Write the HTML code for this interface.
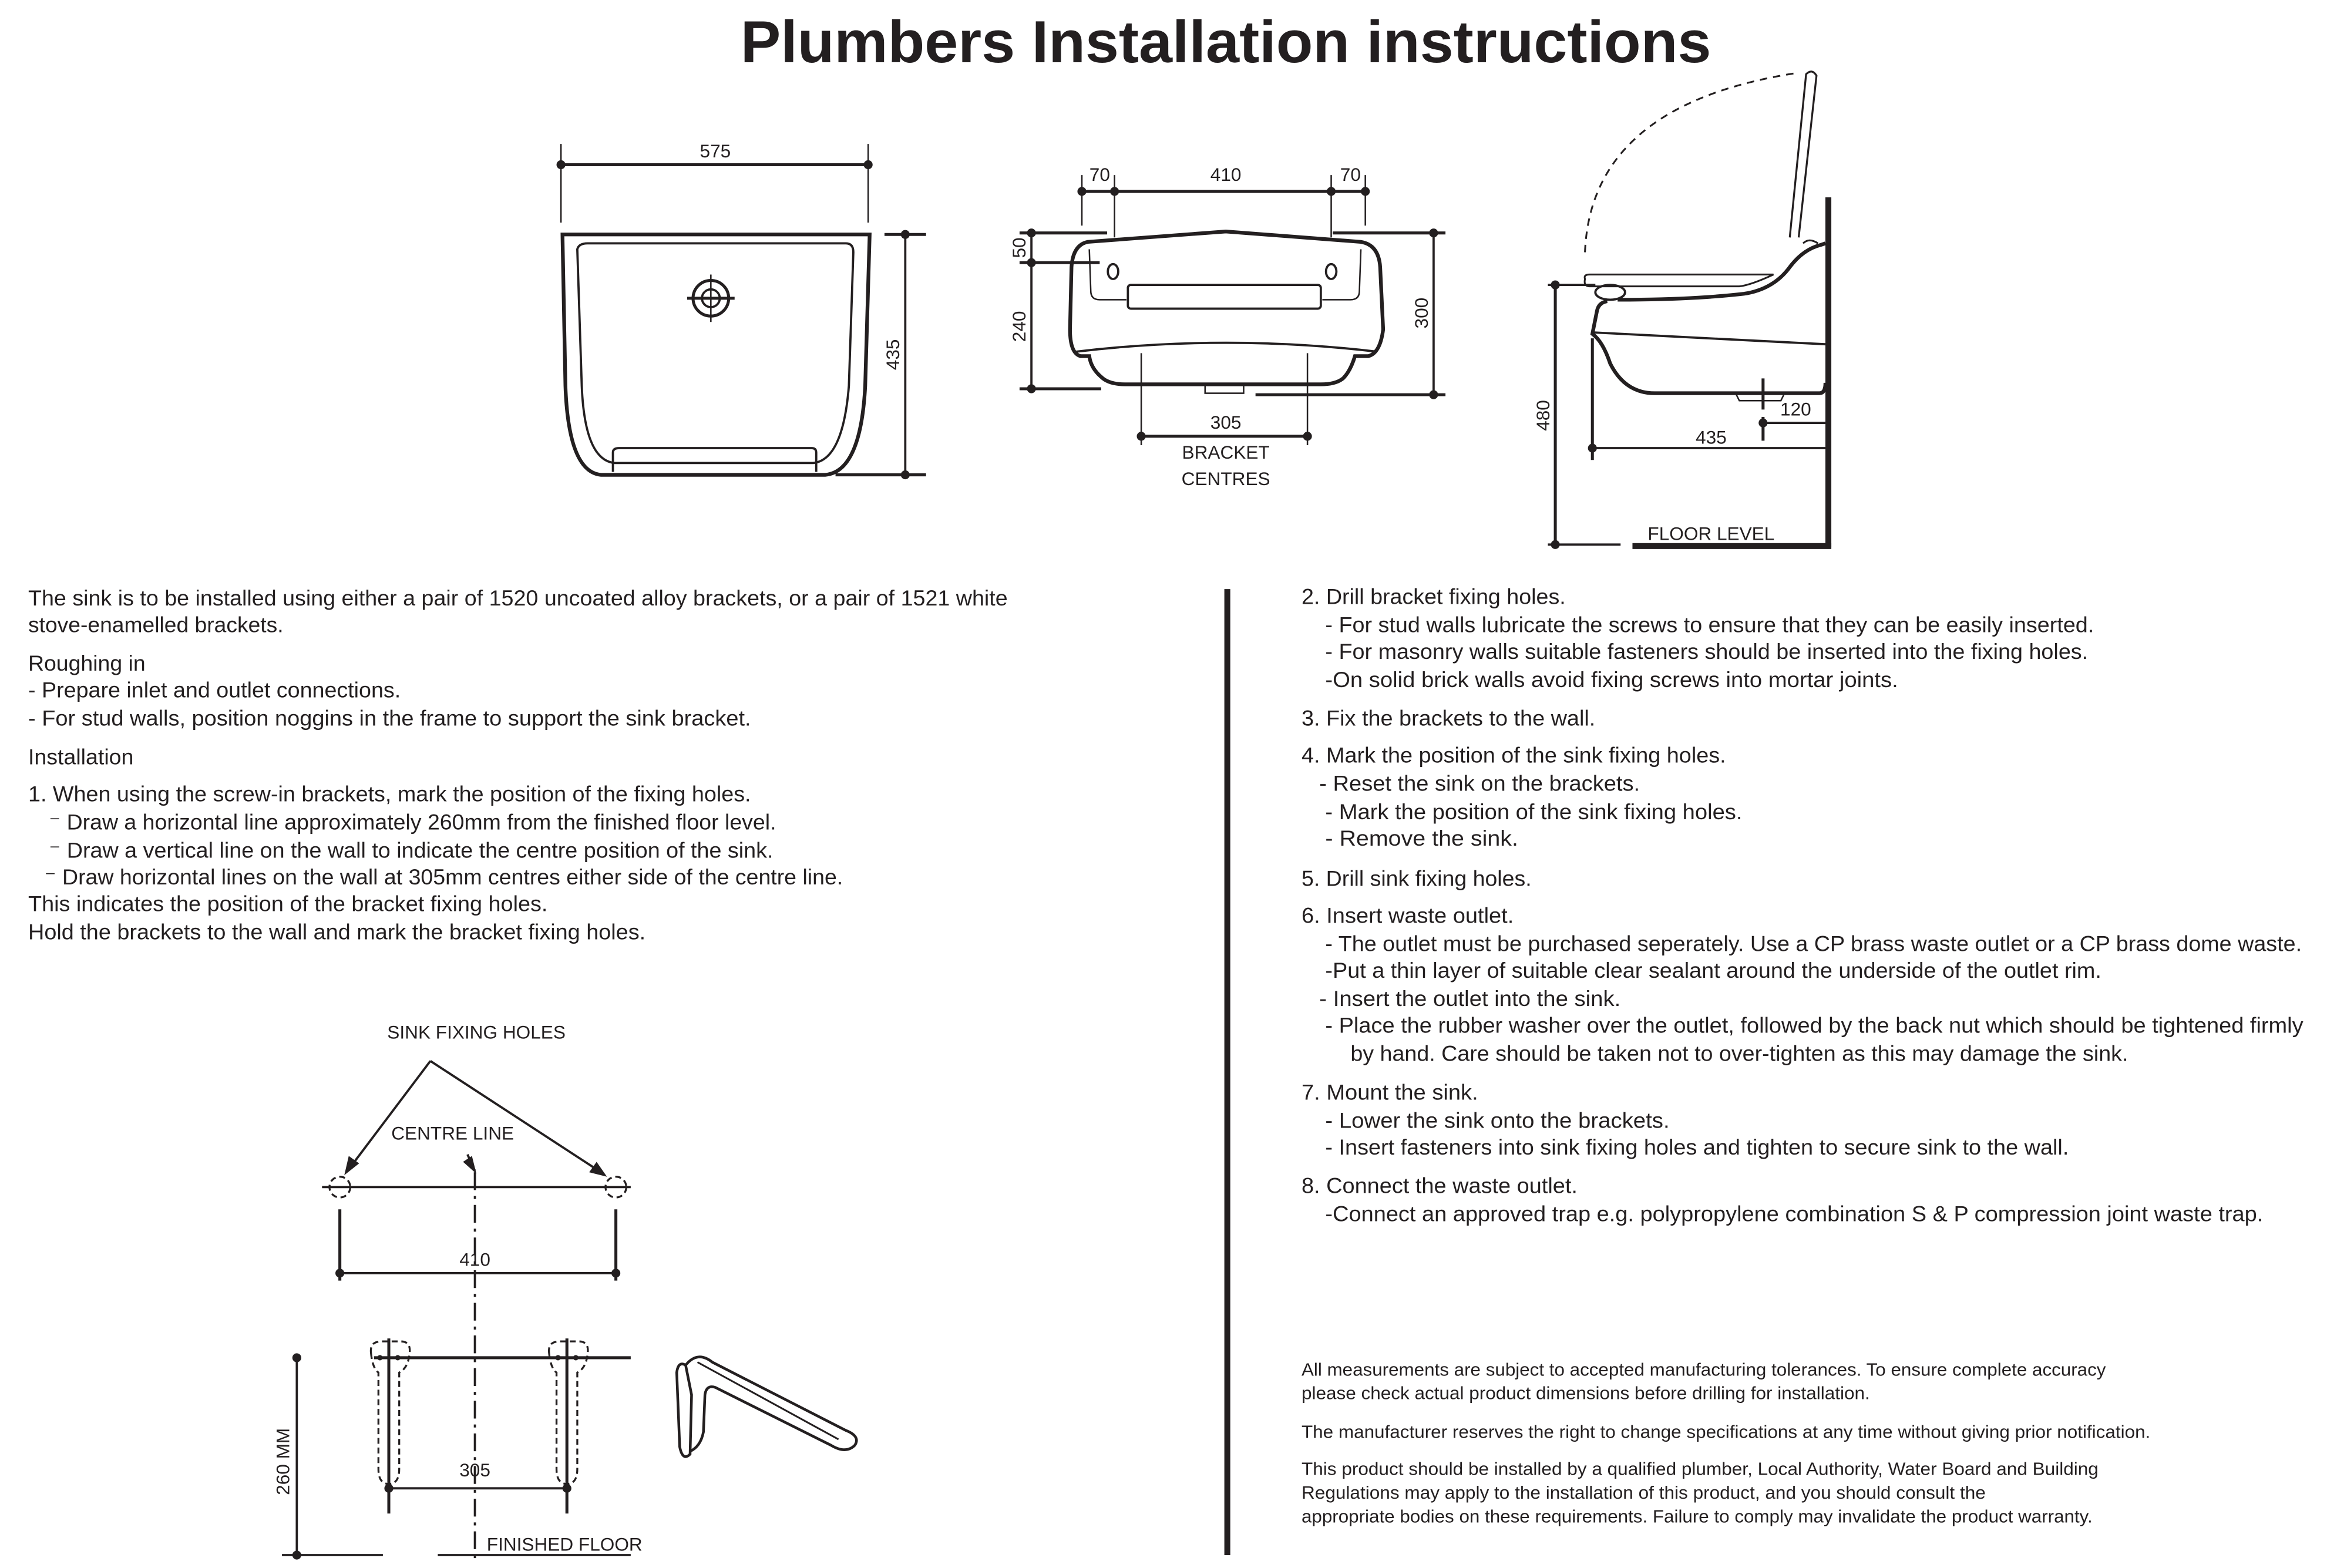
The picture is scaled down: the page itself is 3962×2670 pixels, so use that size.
<!DOCTYPE html>
<html><head><meta charset="utf-8"><style>
html,body{margin:0;padding:0;background:#fff;}
svg{display:block;}
text{font-family:"Liberation Sans",sans-serif;fill:#231f20;}
.b{font-size:14.5px;}
.s{font-size:12px;}
.d{font-size:12.5px;}
</style></head><body>
<svg width="3962" height="2670" viewBox="0 0 1568 1056.7" preserveAspectRatio="none" xmlns="http://www.w3.org/2000/svg">
<rect width="1568" height="1057" fill="#fff"/>
<text x="826" y="42" text-anchor="middle" font-size="40" font-weight="bold" textLength="654" lengthAdjust="spacingAndGlyphs">Plumbers Installation instructions</text>

<g fill="none" stroke="#231f20" stroke-width="2">
<!-- front view -->
<line x1="378" y1="97" x2="378" y2="150" stroke-width="1"/>
<line x1="585" y1="97" x2="585" y2="150" stroke-width="1"/>
<line x1="378" y1="111" x2="585" y2="111"/>
<path d="M379 158 L586 158 L583 260 Q580 318 556 320 L405 320 Q383 318 381 260 Z" stroke-width="2.5"/>
<path d="M389 168 Q390 164 396 164 L570 164 Q575 164 575 170 L572 260 Q568 310 548 312 L414 312 Q394 310 392 260 Z" stroke-width="1.5"/>
<path d="M413 318 L413 305 Q413 302 417 302 L547 302 Q550 302 550 305 L550 318" stroke-width="1.5"/>
<circle cx="479" cy="201" r="12" stroke-width="2"/>
<circle cx="479" cy="201" r="6" stroke-width="1.5"/>
<line x1="463" y1="201" x2="495" y2="201"/>
<line x1="479" y1="185" x2="479" y2="217" stroke-width="1"/>
<line x1="610" y1="158" x2="610" y2="320" stroke-width="1.5"/>
<line x1="596" y1="158" x2="624" y2="158"/>
<line x1="563" y1="320" x2="624" y2="320"/>

<!-- middle view -->
<line x1="729" y1="118" x2="729" y2="152" stroke-width="1"/>
<line x1="751" y1="118" x2="751" y2="160" stroke-width="1"/>
<line x1="897" y1="118" x2="897" y2="160" stroke-width="1"/>
<line x1="920" y1="118" x2="920" y2="152" stroke-width="1"/>
<line x1="729" y1="129" x2="920" y2="129"/>
<path d="M733 163 L826 156 L917 163 Q929 165 930 180 L932 222 Q930 238 922 240 L913 240 Q910 250 905 255 Q900 259 890 259 L758 259 Q747 259 742 254 Q735 248 734 240 L728 240 Q721 238 721 222 L722 180 Q723 165 733 163 Z" stroke-width="2.5"/>
<path d="M725 237 Q826 225 928 237" stroke-width="1.5"/>
<path d="M734 168 L735 196 Q735 202 741 202 L759 202" stroke-width="1"/>
<path d="M917 168 L916 196 Q916 202 910 202 L891 202" stroke-width="1"/>
<rect x="760" y="192" width="130" height="16" rx="2" stroke-width="1.5"/>
<ellipse cx="750" cy="183" rx="3.5" ry="5" stroke-width="1.5"/>
<ellipse cx="897" cy="183" rx="3.5" ry="5" stroke-width="1.5"/>
<rect x="812" y="259" width="26" height="6" stroke-width="1"/>
<line x1="695" y1="157" x2="695" y2="262" stroke-width="1.5"/>
<line x1="687" y1="157" x2="746" y2="157"/>
<line x1="898" y1="157" x2="974" y2="157"/>
<line x1="687" y1="177" x2="741" y2="177"/>
<line x1="687" y1="262" x2="742" y2="262"/>
<line x1="966" y1="157" x2="966" y2="266" stroke-width="1.5"/>
<line x1="846" y1="266" x2="974" y2="266"/>
<line x1="769" y1="238" x2="769" y2="300" stroke-width="1"/>
<line x1="881" y1="238" x2="881" y2="300" stroke-width="1"/>
<line x1="769" y1="294" x2="881" y2="294"/>

<!-- side view -->
<path d="M1068 170 Q1072 70 1212 49" stroke-dasharray="5,4" stroke-width="1.2"/>
<path d="M1206 160 L1217 50 Q1221 46 1224 51 L1212 160" stroke-width="1.3"/>
<rect x="1230" y="133" width="4" height="236" fill="#231f20" stroke="none"/>
<rect x="1100" y="366" width="134" height="4" fill="#231f20" stroke="none"/>
<path d="M1068 188 Q1067 185 1071 185 L1195 185 Q1180 192 1172 193 L1071 193 Q1067 193 1068 188 Z" stroke-width="1.2"/>
<ellipse cx="1085" cy="197" rx="10" ry="5" stroke-width="1.5"/>
<path d="M1090 202 Q1140 202 1175 198 Q1195 195 1206 180 Q1215 168 1227 165 L1230 164" stroke-width="2.5"/>
<path d="M1225 164 Q1219 160 1215 164" stroke-width="1.2"/>
<path d="M1083 203 Q1077 204 1076 210 L1073 225 Q1080 230 1085 245 Q1095 265 1115 265 L1226 265 Q1230 265 1230 258" stroke-width="2.5"/>
<line x1="1073" y1="224" x2="1230" y2="232" stroke-width="1.5"/>
<path d="M1170 266 L1172 270 L1200 270 L1202 266" stroke-width="1"/>
<line x1="1188" y1="255" x2="1188" y2="276"/>
<line x1="1188" y1="281" x2="1188" y2="297"/>
<line x1="1188" y1="285" x2="1230" y2="285" stroke-width="1.5"/>
<line x1="1073" y1="228" x2="1073" y2="310"/>
<line x1="1073" y1="302" x2="1230" y2="302" stroke-width="1.5"/>
<line x1="1048" y1="192" x2="1048" y2="367"/>
<line x1="1043" y1="192" x2="1075" y2="192" stroke-width="1.5"/>
<line x1="1043" y1="367" x2="1092" y2="367" stroke-width="1.5"/>

<!-- divider -->
<rect x="825" y="397" width="4" height="651" fill="#231f20" stroke="none"/>

<!-- bottom-left diagram -->
<line x1="290" y1="715" x2="235" y2="788" stroke-width="1.5"/>
<line x1="290" y1="715" x2="405" y2="790" stroke-width="1.5"/>
<line x1="315" y1="778" x2="320" y2="789" stroke-width="1.5"/>
<line x1="217" y1="800" x2="425" y2="800" stroke-width="1.5"/>
<circle cx="229" cy="800" r="7" stroke-dasharray="4,2.5" stroke-width="1.3"/>
<circle cx="415" cy="800" r="7" stroke-dasharray="4,2.5" stroke-width="1.3"/>
<line x1="320" y1="790" x2="320" y2="1050" stroke-dasharray="12,4,2,4" stroke-width="1.5"/>
<line x1="229" y1="815" x2="229" y2="863"/>
<line x1="415" y1="815" x2="415" y2="863"/>
<line x1="229" y1="858" x2="415" y2="858" stroke-width="1.5"/>
<line x1="252" y1="915" x2="425" y2="915" stroke-width="2"/>
<path d="M250 912 Q249 904 257 904 L270 904 Q277 904 276 912 Q275 922 269 925 L269 990 Q269 1000 262 1000 Q255 1000 255 990 L255 925 Q251 922 250 912 Z" stroke-dasharray="4,2.5" stroke-width="1.3"/>
<path d="M370 912 Q369 904 377 904 L390 904 Q397 904 396 912 Q395 922 389 925 L389 990 Q389 1000 382 1000 Q375 1000 375 990 L375 925 Q371 922 370 912 Z" stroke-dasharray="4,2.5" stroke-width="1.3"/>
<line x1="262" y1="902" x2="262" y2="1020"/>
<line x1="382" y1="902" x2="382" y2="1020"/>
<line x1="262" y1="1003" x2="382" y2="1003" stroke-width="1.5"/>
<line x1="200" y1="915" x2="200" y2="1048" stroke-width="1.5"/>
<line x1="190" y1="1048" x2="258" y2="1048" stroke-width="1.5"/>
<line x1="295" y1="1048" x2="425" y2="1048" stroke-width="1.5"/>
<!-- isometric bracket -->
<path d="M462 920 Q457 917 456 925 L458 975 Q460 985 465 980 L466 940 Z M462 920 Q470 910 480 918 L570 964 Q580 968 576 974 Q570 980 560 974 L482 935 Q476 933 475 940 L474 965 Q472 975 465 978" stroke-width="1.8"/>
<path d="M470 918 L565 970" stroke-width="1.2"/>
</g>
<g fill="#231f20">
<circle cx="378" cy="111" r="3"/><circle cx="585" cy="111" r="3"/>
<circle cx="610" cy="158" r="3"/><circle cx="610" cy="320" r="3"/>
<circle cx="729" cy="129" r="3"/><circle cx="751" cy="129" r="3"/><circle cx="897" cy="129" r="3"/><circle cx="920" cy="129" r="3"/>
<circle cx="695" cy="157" r="3"/><circle cx="695" cy="177" r="3"/><circle cx="695" cy="262" r="3"/>
<circle cx="966" cy="157" r="3"/><circle cx="966" cy="266" r="3"/>
<circle cx="769" cy="294" r="3"/><circle cx="881" cy="294" r="3"/>
<circle cx="1048" cy="192" r="3"/><circle cx="1048" cy="367" r="3"/>
<circle cx="1188" cy="285" r="3"/><circle cx="1073" cy="302" r="3"/>
<circle cx="229" cy="858" r="3"/><circle cx="415" cy="858" r="3"/>
<circle cx="262" cy="1003" r="3"/><circle cx="382" cy="1003" r="3"/>
<circle cx="200" cy="915" r="3"/><circle cx="200" cy="1048" r="3"/>
<circle cx="256" cy="915" r="1.8"/><circle cx="268" cy="915" r="1.8"/>
<circle cx="376" cy="915" r="1.8"/><circle cx="388" cy="915" r="1.8"/>
<polygon points="232,792 235,779 242,784"/>
<polygon points="409,793 397,790 402,783"/>
<polygon points="321,791 312,783 318,779"/>
</g>

<!-- drawing labels -->
<g class="d" text-anchor="middle">
<text x="482" y="106">575</text>
<text x="741" y="122">70</text><text x="826" y="122">410</text><text x="910" y="122">70</text>
<text x="826" y="289">305</text>
<text x="826" y="309">BRACKET</text>
<text x="826" y="327">CENTRES</text>
<text x="1210" y="280">120</text>
<text x="1153" y="299">435</text>
<text x="1153" y="364">FLOOR LEVEL</text>
<text x="321" y="700">SINK FIXING HOLES</text>
<text x="305" y="768">CENTRE LINE</text>
<text x="320" y="853">410</text>
<text x="320" y="995">305</text>
<text transform="translate(606,239) rotate(-90)">435</text>
<text transform="translate(691,167) rotate(-90)">50</text>
<text transform="translate(691,220) rotate(-90)">240</text>
<text transform="translate(962,211) rotate(-90)">300</text>
<text transform="translate(1044,280) rotate(-90)">480</text>
<text transform="translate(195,985) rotate(-90)">260 MM</text>
</g>
<text class="d" x="328" y="1045">FINISHED FLOOR</text>

<!-- left column -->
<g class="b">
<text x="19" y="408" textLength="660" lengthAdjust="spacingAndGlyphs">The sink is to be installed using either a pair of 1520 uncoated alloy brackets, or a pair of 1521 white</text>
<text x="19" y="426" textLength="172" lengthAdjust="spacingAndGlyphs">stove-enamelled brackets.</text>
<text x="19" y="452" textLength="79" lengthAdjust="spacingAndGlyphs">Roughing in</text>
<text x="19" y="470" textLength="251" lengthAdjust="spacingAndGlyphs">- Prepare inlet and outlet connections.</text>
<text x="19" y="489" textLength="487" lengthAdjust="spacingAndGlyphs">- For stud walls, position noggins in the frame to support the sink bracket.</text>
<text x="19" y="515" textLength="71" lengthAdjust="spacingAndGlyphs">Installation</text>
<text x="19" y="540" textLength="487" lengthAdjust="spacingAndGlyphs">1. When using the screw-in brackets, mark the position of the fixing holes.</text>
<text x="33" y="559" textLength="490" lengthAdjust="spacingAndGlyphs">⁻ Draw a horizontal line approximately 260mm from the finished floor level.</text>
<text x="33" y="578" textLength="488" lengthAdjust="spacingAndGlyphs">⁻ Draw a vertical line on the wall to indicate the centre position of the sink.</text>
<text x="30" y="596" textLength="538" lengthAdjust="spacingAndGlyphs">⁻ Draw horizontal lines on the wall at 305mm centres either side of the centre line.</text>
<text x="19" y="614" textLength="350" lengthAdjust="spacingAndGlyphs">This indicates the position of the bracket fixing holes.</text>
<text x="19" y="633" textLength="416" lengthAdjust="spacingAndGlyphs">Hold the brackets to the wall and mark the bracket fixing holes.</text>
</g>

<!-- right column -->
<g class="b">
<text x="877" y="407" textLength="178" lengthAdjust="spacingAndGlyphs">2. Drill bracket fixing holes.</text>
<text x="893" y="426" textLength="518" lengthAdjust="spacingAndGlyphs">- For stud walls lubricate the screws to ensure that they can be easily inserted.</text>
<text x="893" y="444" textLength="514" lengthAdjust="spacingAndGlyphs">- For masonry walls suitable fasteners should be inserted into the fixing holes.</text>
<text x="893" y="463" textLength="386" lengthAdjust="spacingAndGlyphs">-On solid brick walls avoid fixing screws into mortar joints.</text>
<text x="877" y="489" textLength="198" lengthAdjust="spacingAndGlyphs">3. Fix the brackets to the wall.</text>
<text x="877" y="514" textLength="286" lengthAdjust="spacingAndGlyphs">4. Mark the position of the sink fixing holes.</text>
<text x="889" y="533" textLength="216" lengthAdjust="spacingAndGlyphs">- Reset the sink on the brackets.</text>
<text x="893" y="552" textLength="281" lengthAdjust="spacingAndGlyphs">- Mark the position of the sink fixing holes.</text>
<text x="893" y="570" textLength="130" lengthAdjust="spacingAndGlyphs">- Remove the sink.</text>
<text x="877" y="597" textLength="155" lengthAdjust="spacingAndGlyphs">5. Drill sink fixing holes.</text>
<text x="877" y="622" textLength="143" lengthAdjust="spacingAndGlyphs">6. Insert waste outlet.</text>
<text x="893" y="641" textLength="658" lengthAdjust="spacingAndGlyphs">- The outlet must be purchased seperately. Use a CP brass waste outlet or a CP brass dome waste.</text>
<text x="893" y="659" textLength="523" lengthAdjust="spacingAndGlyphs">-Put a thin layer of suitable clear sealant around the underside of the outlet rim.</text>
<text x="889" y="678" textLength="203" lengthAdjust="spacingAndGlyphs">- Insert the outlet into the sink.</text>
<text x="893" y="696" textLength="659" lengthAdjust="spacingAndGlyphs">- Place the rubber washer over the outlet, followed by the back nut which should be tightened firmly</text>
<text x="910" y="715" textLength="524" lengthAdjust="spacingAndGlyphs">by hand. Care should be taken not to over-tighten as this may damage the sink.</text>
<text x="877" y="741" textLength="119" lengthAdjust="spacingAndGlyphs">7. Mount the sink.</text>
<text x="893" y="760" textLength="232" lengthAdjust="spacingAndGlyphs">- Lower the sink onto the brackets.</text>
<text x="893" y="778" textLength="501" lengthAdjust="spacingAndGlyphs">- Insert fasteners into sink fixing holes and tighten to secure sink to the wall.</text>
<text x="877" y="804" textLength="186" lengthAdjust="spacingAndGlyphs">8. Connect the waste outlet.</text>
<text x="893" y="823" textLength="632" lengthAdjust="spacingAndGlyphs">-Connect an approved trap e.g. polypropylene combination S &amp; P compression joint waste trap.</text>
</g>

<!-- footer -->
<g class="s">
<text x="877" y="927" textLength="542" lengthAdjust="spacingAndGlyphs">All measurements are subject to accepted manufacturing tolerances. To ensure complete accuracy</text>
<text x="877" y="943" textLength="383" lengthAdjust="spacingAndGlyphs">please check actual product dimensions before drilling for installation.</text>
<text x="877" y="969" textLength="572" lengthAdjust="spacingAndGlyphs">The manufacturer reserves the right to change specifications at any time without giving prior notification.</text>
<text x="877" y="994" textLength="537" lengthAdjust="spacingAndGlyphs">This product should be installed by a qualified plumber, Local Authority, Water Board and Building</text>
<text x="877" y="1010" textLength="461" lengthAdjust="spacingAndGlyphs">Regulations may apply to the installation of this product, and you should consult the</text>
<text x="877" y="1026" textLength="533" lengthAdjust="spacingAndGlyphs">appropriate bodies on these requirements. Failure to comply may invalidate the product warranty.</text>
</g>
</svg>
</body></html>
